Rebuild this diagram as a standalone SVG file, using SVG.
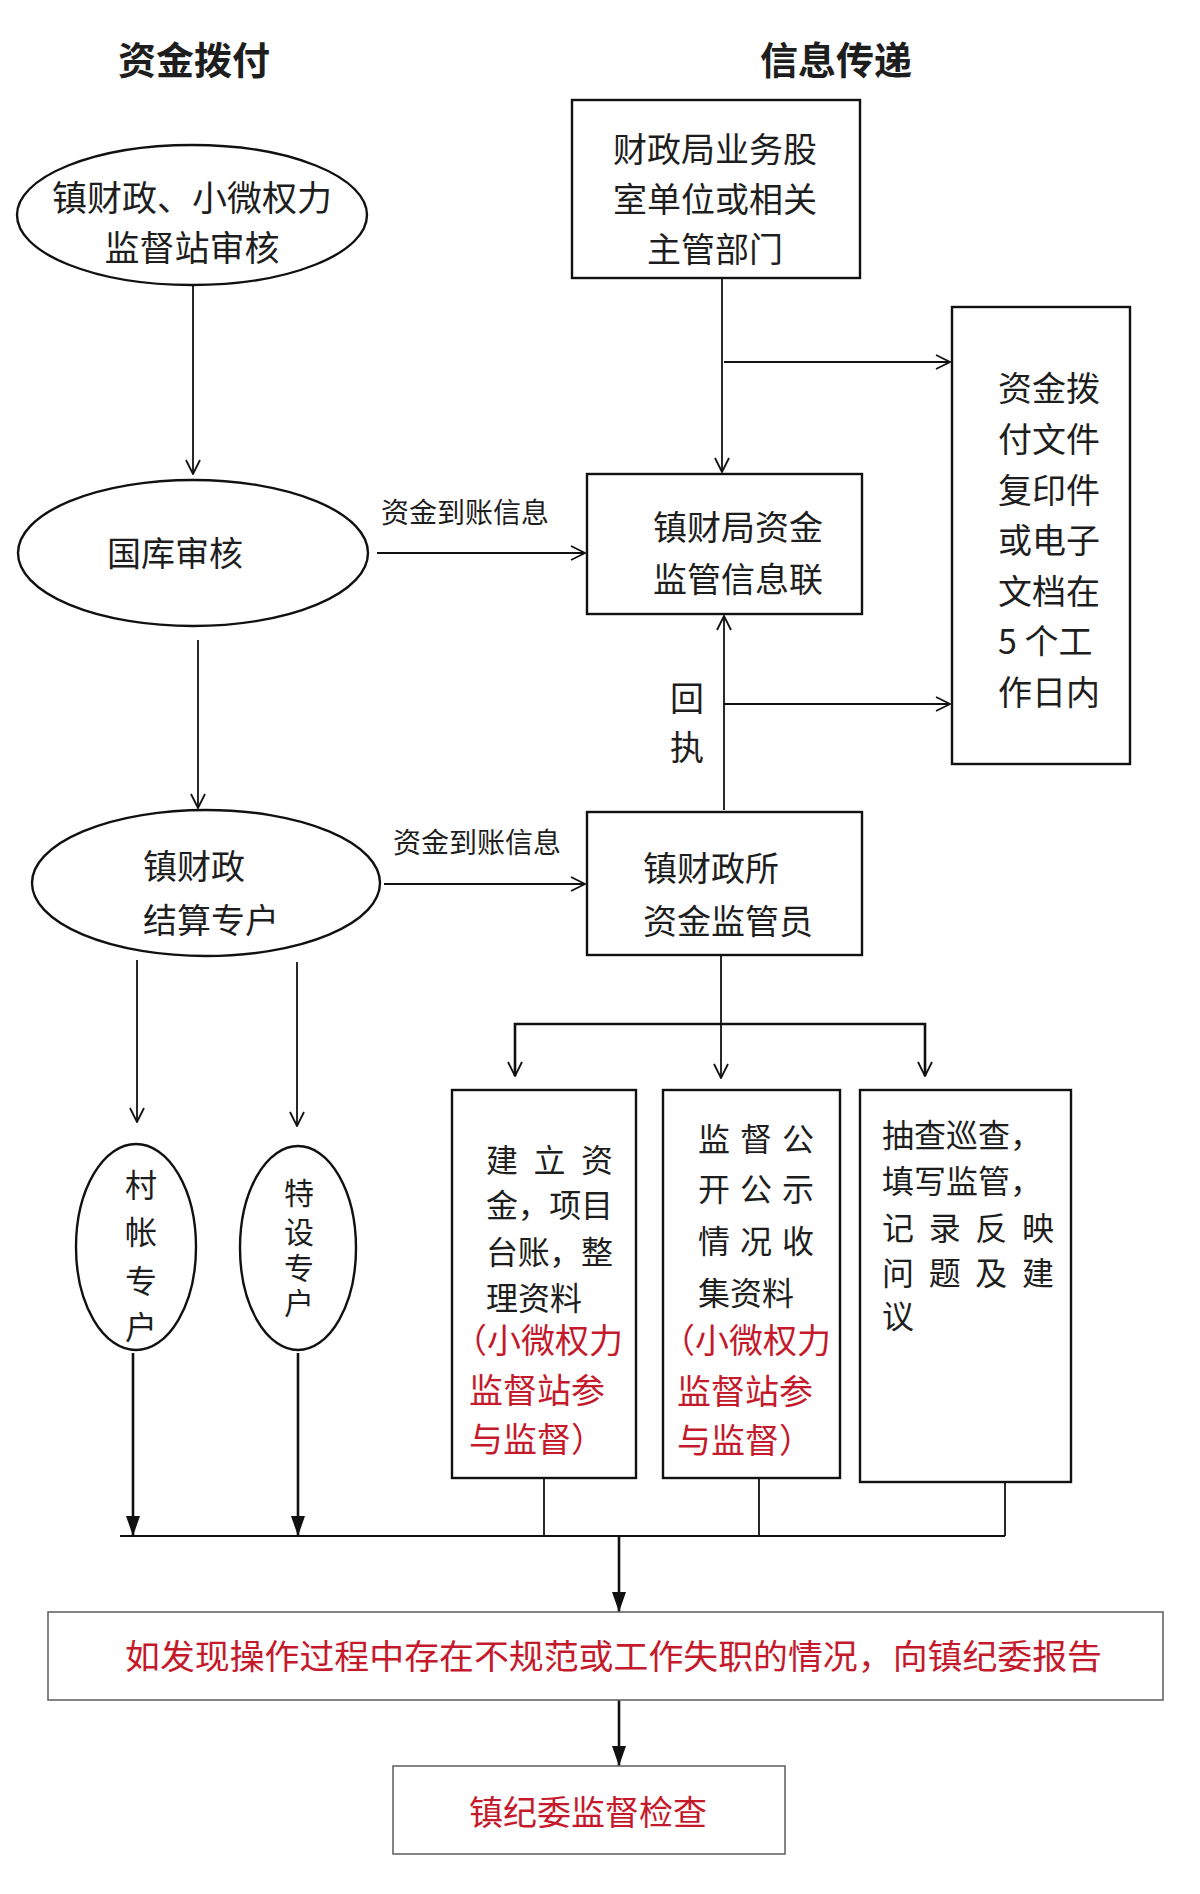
<svg xmlns="http://www.w3.org/2000/svg" width="1200" height="1894" viewBox="0 0 1200 1894">
<style>
.t{font-family:"Noto Sans CJK SC","Noto Sans CJK JP",sans-serif;font-size:34px;fill:#1e1e1e}
.s{font-size:32px}
.u{font-size:30px}
.l{font-size:28px}
.a{font-size:35px}
.h{font-size:38px;font-weight:bold}
.r{fill:#c41a2c}
.m{text-anchor:middle}
.n{fill:#fff;stroke:#111;stroke-width:2.4}
.g{fill:#fff;stroke:#666;stroke-width:1.6}
.c{stroke:#111;stroke-width:1.8;fill:none}
.k{stroke:#111;stroke-width:2.6;fill:none}
</style>
<defs>
<marker id="v" viewBox="0 0 16 16" refX="15" refY="8" markerWidth="16" markerHeight="16" markerUnits="userSpaceOnUse" orient="auto">
<path d="M1,1 L15,8 L1,15" fill="none" stroke="#111" stroke-width="1.8"/>
</marker>
<marker id="f" viewBox="0 0 20 14" refX="20" refY="7" markerWidth="20" markerHeight="14" markerUnits="userSpaceOnUse" orient="auto">
<path d="M0,0 L20,7 L0,14 Z" fill="#111"/>
</marker>
</defs>
<rect width="1200" height="1894" fill="#fff"/>

<g id="titles">
<text class="t h m" x="194" y="74">资金拨付</text>
<text class="t h m" x="836" y="74">信息传递</text>
</g>

<g id="connectors">
<line class="c" x1="193" y1="285" x2="193" y2="474" marker-end="url(#v)"/>
<line class="c" x1="377" y1="553" x2="585" y2="553" marker-end="url(#v)"/>
<line class="c" x1="722" y1="278" x2="722" y2="472" marker-end="url(#v)"/>
<line class="c" x1="724" y1="362" x2="950" y2="362" marker-end="url(#v)"/>
<line class="c" x1="724" y1="810" x2="724" y2="616" marker-end="url(#v)"/>
<line class="c" x1="724" y1="704" x2="950" y2="704" marker-end="url(#v)"/>
<line class="c" x1="198" y1="640" x2="198" y2="808" marker-end="url(#v)"/>
<line class="c" x1="384" y1="884" x2="585" y2="884" marker-end="url(#v)"/>
<line class="c" x1="721" y1="955" x2="721" y2="1078" marker-end="url(#v)"/>
<polyline class="k" points="515,1076 515,1024 925,1024 925,1076"/>
<line class="c" x1="515" y1="1040" x2="515" y2="1076" marker-end="url(#v)"/>
<line class="c" x1="925" y1="1040" x2="925" y2="1076" marker-end="url(#v)"/>
<line class="c" x1="137" y1="960" x2="137" y2="1122" marker-end="url(#v)"/>
<line class="c" x1="297" y1="962" x2="297" y2="1126" marker-end="url(#v)"/>
<line class="k" x1="133" y1="1353" x2="133" y2="1536" marker-end="url(#f)"/>
<line class="k" x1="298" y1="1353" x2="298" y2="1536" marker-end="url(#f)"/>
<line class="c" x1="120" y1="1536" x2="1005" y2="1536"/>
<line class="c" x1="544" y1="1478" x2="544" y2="1536"/>
<line class="c" x1="759" y1="1478" x2="759" y2="1536"/>
<line class="c" x1="1005" y1="1482" x2="1005" y2="1536"/>
<line class="k" x1="619" y1="1536" x2="619" y2="1612" marker-end="url(#f)"/>
<line class="k" x1="619" y1="1700" x2="619" y2="1766" marker-end="url(#f)"/>
<text class="t l m" x="465" y="523">资金到账信息</text>
<text class="t l m" x="477" y="853">资金到账信息</text>
<text class="t m" x="687" y="711">回</text>
<text class="t m" x="687" y="760">执</text>
</g>

<g id="node-a">
<ellipse class="n" cx="192" cy="215" rx="175" ry="70"/>
<text class="t a m" x="192" y="211">镇财政、小微权力</text>
<text class="t a m" x="192" y="261">监督站审核</text>
</g>

<g id="node-b">
<ellipse class="n" cx="193" cy="553" rx="175" ry="73"/>
<text class="t m" x="175" y="566">国库审核</text>
</g>

<g id="node-g">
<ellipse class="n" cx="206" cy="883" rx="174" ry="73"/>
<text class="t" x="143" y="879">镇财政</text>
<text class="t" x="143" y="933">结算专户</text>
</g>

<g id="node-d">
<rect class="n" x="572" y="100" width="288" height="178"/>
<text class="t m" x="715" y="162">财政局业务股</text>
<text class="t m" x="715" y="212">室单位或相关</text>
<text class="t m" x="715" y="262">主管部门</text>
</g>

<g id="node-c">
<rect class="n" x="587" y="474" width="275" height="140"/>
<text class="t" x="653" y="540">镇财局资金</text>
<text class="t" x="653" y="592">监管信息联</text>
</g>

<g id="node-e">
<rect class="n" x="952" y="307" width="178" height="457"/>
<text class="t" x="998" y="401">资金拨</text>
<text class="t" x="998" y="452">付文件</text>
<text class="t" x="998" y="503">复印件</text>
<text class="t" x="998" y="553">或电子</text>
<text class="t" x="998" y="604">文档在</text>
<text class="t" x="998" y="654">5 个工</text>
<text class="t" x="998" y="705">作日内</text>
</g>

<g id="node-f">
<rect class="n" x="587" y="812" width="275" height="143"/>
<text class="t" x="643" y="881">镇财政所</text>
<text class="t" x="643" y="934">资金监管员</text>
</g>

<g id="node-h1">
<ellipse class="n" cx="136" cy="1247" rx="60" ry="103"/>
<text class="t s m"><tspan x="141" y="1197">村</tspan><tspan x="141" y="1244">帐</tspan><tspan x="141" y="1293">专</tspan><tspan x="141" y="1339">户</tspan></text>
</g>

<g id="node-h2">
<ellipse class="n" cx="298" cy="1248" rx="58" ry="102"/>
<text class="t u m"><tspan x="299" y="1204">特</tspan><tspan x="299" y="1243">设</tspan><tspan x="299" y="1279">专</tspan><tspan x="299" y="1314">户</tspan></text>
</g>

<g id="node-i1">
<rect class="n" x="452" y="1090" width="184" height="388"/>
<text class="t s" x="486" y="1172" textLength="127" lengthAdjust="spacing">建立资</text>
<text class="t s" x="486" y="1217" textLength="127" lengthAdjust="spacing">金，项目</text>
<text class="t s" x="486" y="1264" textLength="127" lengthAdjust="spacing">台账，整</text>
<text class="t s" x="486" y="1310">理资料</text>
<text class="t r" x="453" y="1353">（小微权力</text>
<text class="t r" x="469" y="1403">监督站参</text>
<text class="t r" x="469" y="1452">与监督）</text>
</g>

<g id="node-i2">
<rect class="n" x="663" y="1090" width="177" height="388"/>
<text class="t s" x="698" y="1151" textLength="116" lengthAdjust="spacing">监督公</text>
<text class="t s" x="698" y="1201" textLength="116" lengthAdjust="spacing">开公示</text>
<text class="t s" x="698" y="1253" textLength="116" lengthAdjust="spacing">情况收</text>
<text class="t s" x="698" y="1305">集资料</text>
<text class="t r" x="661" y="1353">（小微权力</text>
<text class="t r" x="677" y="1404">监督站参</text>
<text class="t r" x="677" y="1453">与监督）</text>
</g>

<g id="node-i3">
<rect class="n" x="860" y="1090" width="211" height="392"/>
<text class="t s" x="882" y="1147">抽查巡查，</text>
<text class="t s" x="882" y="1193">填写监管，</text>
<text class="t s" x="882" y="1240" textLength="172" lengthAdjust="spacing">记录反映</text>
<text class="t s" x="882" y="1285" textLength="172" lengthAdjust="spacing">问题及建</text>
<text class="t s" x="882" y="1328">议</text>
</g>

<g id="node-j">
<rect class="g" x="48" y="1612" width="1115" height="88"/>
<text class="t r" x="125" y="1669" textLength="977" lengthAdjust="spacingAndGlyphs">如发现操作过程中存在不规范或工作失职的情况，向镇纪委报告</text>
</g>

<g id="node-k">
<rect class="g" x="393" y="1766" width="392" height="88"/>
<text class="t r m" x="588" y="1825">镇纪委监督检查</text>
</g>
</svg>
